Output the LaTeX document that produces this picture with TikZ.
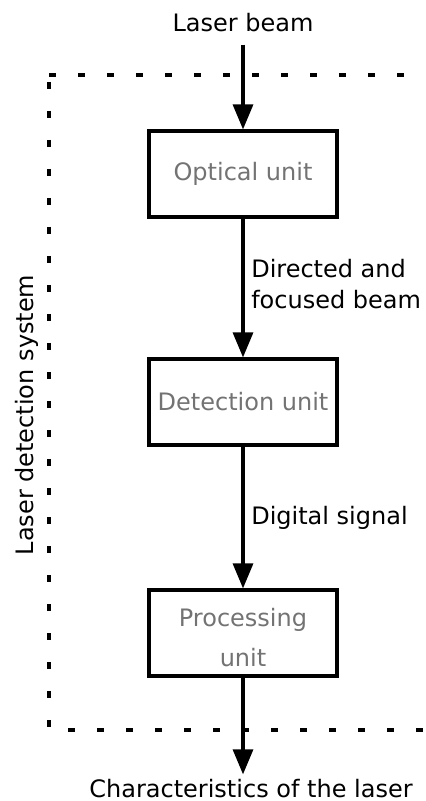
\documentclass[tikz,border=0pt]{standalone}
\usepackage{fontspec}
\setmainfont{DejaVu Sans}
\usetikzlibrary{arrows.meta}
\definecolor{unittext}{gray}{0.45}

\begin{document}
\begin{tikzpicture}[x=0.5pt,y=-0.5pt,
    >={Triangle[length=12.5pt,width=10pt]},
    unit/.style={draw,line width=1.6pt,minimum width=94pt,minimum height=43pt,
        text=unittext,align=center,font=\fontsize{12}{20}\selectfont},
    flow/.style={->,line width=1.6pt},
    txt/.style={font=\fontsize{12}{15.5}\selectfont,align=left},
    frame/.style={line width=2pt,dash pattern=on 3.5pt off 11pt}]

\useasboundingbox (0,0) rectangle (425,801);

% System boundary (open on the right)
\coordinate (tl) at (49,75);
\coordinate (tr) at (406,75);
\coordinate (bl) at (49,730);
\coordinate (br) at (425,730);
\draw[frame] (tl) -- (tr);
\draw[frame] ([yshift=-3.5pt]tl) -- (bl);
\draw[frame] ([xshift=9.5pt]bl) -- (br);

\node[txt,rotate=90] (system) at (27,415) {Laser detection system};

% Units
\node[unit] (optical) at (243,174) {Optical unit};
\node[unit] (detection) at (243,402) {Detection unit};
\node[unit] (processing) at (243,633) {\rule{0pt}{13.5pt}Processing\\unit};

% Input and output
\node[txt,inner sep=6pt] (beam) at (243,23) {Laser beam};
\node[txt,anchor=base,inner sep=2pt] (result) at (251,797)
    {Characteristics of the laser};

% Signal flow
\draw[flow] (beam) -- (optical);
\draw[flow] (optical) -- node[right,txt,pos=0.47] {Directed and\\focused beam}
    (detection);
\draw[flow] (detection) -- node[right,txt] {Digital signal} (processing);
\draw[flow] (processing) -- (processing |- result.north);

\end{tikzpicture}
\end{document}
